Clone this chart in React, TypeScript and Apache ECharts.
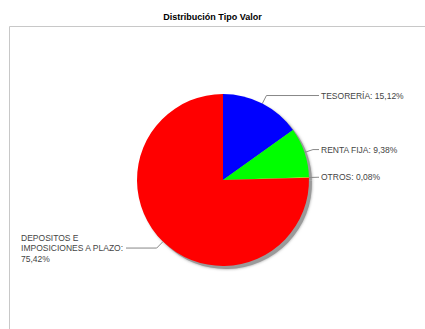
import React, { useEffect, useRef } from "react";
import * as echarts from "echarts";

const titleText = "Distribución Tipo Valor";
const categories = ["TESORERÍA", "RENTA FIJA", "OTROS", "DEPOSITOS E\nIMPOSICIONES A PLAZO"];
const values = [15.12, 9.38, 0.08, 75.42];
const colors = ["#0000FF", "#00FF00", "#FFFF00", "#FF0000"];

const FONT = "'Liberation Sans', Arial, sans-serif";

export default function App() {
  const ref = useRef<HTMLDivElement>(null);
  useEffect(() => {
    if (!ref.current) return;
    const chart = echarts.init(ref.current, undefined, { renderer: "svg" });
    const cx = 223;
    const cy = 180;
    const radius = 86;
    const len1 = 9;
    const dist = 2;
    const rightTextX = 321;
    const leftTextX = 124;
    const total = values.reduce((a, b) => a + b, 0);
    const fmt = (v: number) => v.toFixed(2).replace(".", ",") + "%";
    let cum = 0;
    const mainData = categories.map((c, i) => {
      const mid = cum + values[i] / 2;
      cum += values[i];
      const ang = ((90 - (360 * mid) / total) * Math.PI) / 180;
      const dx = Math.cos(ang);
      const x2 = cx + (radius + len1) * dx;
      const len2 = dx >= 0 ? rightTextX - dist - x2 : x2 - dist - leftTextX;
      return {
        name: c,
        value: values[i],
        itemStyle: { color: colors[i] },
        labelLine: { length2: Math.max(0, len2) },
      };
    });
    const shadowData = categories.map((c, i) => ({ name: c, value: values[i] }));
    chart.setOption({
      animation: false,
      backgroundColor: "#ffffff",
      title: {
        text: titleText,
        left: "center",
        top: 6,
        padding: 5,
        textStyle: { fontFamily: FONT, fontSize: 9, fontWeight: "bold", color: "#000", lineHeight: 12 },
      },
      graphic: [
        {
          type: "rect",
          z: -10,
          silent: true,
          shape: { x: 9.5, y: 26.5, width: 500, height: 400 },
          style: { fill: "none", stroke: "#c8c8c8", lineWidth: 1 },
        },
      ],
      series: [
        {
          type: "pie",
          silent: true,
          center: [cx + 3, cy + 3],
          radius: radius,
          startAngle: 90,
          clockwise: true,
          label: { show: false },
          labelLine: { show: false },
          itemStyle: { color: "#9a9a9a", shadowBlur: 3, shadowColor: "#9a9a9a" },
          data: shadowData,
          z: 1,
        },
        {
          type: "pie",
          center: [cx, cy],
          radius: radius,
          startAngle: 90,
          clockwise: true,
          avoidLabelOverlap: false,
          z: 2,
          label: {
            show: true,
            position: "outside",
            alignTo: "none",
            distanceToLabelLine: dist,
            fontFamily: FONT,
            fontSize: 8.5,
            color: "#444",
            formatter: (p: any) => {
              const sep = p.name.indexOf("\n") >= 0 ? ":\n" : ": ";
              return `{t|${p.name}${sep}${fmt(p.value)}}`;
            },
            rich: {
              t: { fontFamily: FONT, fontSize: 8.5, color: "#444", align: "left", lineHeight: 10.5 },
            },
          },
          labelLine: {
            show: true,
            length: len1,
            length2: 2,
            lineStyle: { color: "#888", width: 1 },
          },
          data: mainData,
        },
      ],
    });
    return () => chart.dispose();
  }, []);
  return (
    <div
      ref={ref}
      style={{ position: "absolute", left: 0, top: 0, width: 425, height: 329 }}
    />
  );
}
